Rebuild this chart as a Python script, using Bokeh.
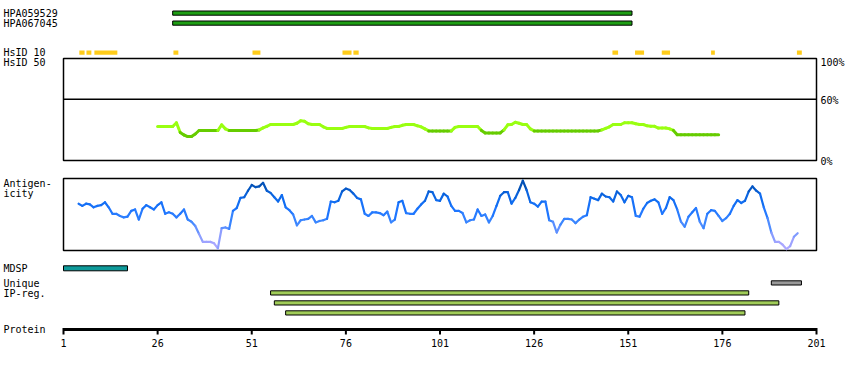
import numpy as np
from bokeh.plotting import figure
from bokeh.models import Range1d
from bokeh.core.properties import value
from bokeh.embed import file_html
from bokeh.resources import INLINE

# ---------------- data ----------------
hpa_names = ["HPA059529", "HPA067045"]
hpa_start = [30, 30]
hpa_end = [152, 152]

hsid10_start = [5.2, 7.1, 9.2, 30.2, 51.2, 75.1, 78.0, 146.8, 152.8, 159.9, 173.0, 195.8]
hsid10_end = [6.6, 8.4, 15.3, 31.5, 53.3, 77.5, 79.4, 148.3, 155.2, 162.1, 174.0, 197.1]

hsid50_first_res = 26
hsid50_pct = [
    33.3, 33.3, 33.3, 33.3, 33.3, 37, 27.5, 25, 23.5, 23.5, 26,
    29.4, 29.4, 29.4, 29.4, 29.4, 29.4, 35, 31,
    29.4, 29.4, 29.4, 29.4, 29.4, 29.4, 29.4, 29.4,
    30, 32, 33.5,
    35.3, 35.3, 35.3, 35.3, 35.3, 35.3, 35.3,
    36.5, 39, 38.5, 36,
    35.3, 35.3, 35.3, 33,
    31.4, 31.4, 31.4, 31.4, 31.4, 32.5,
    33.3, 33.3, 33.3, 33.3, 33.3, 32,
    31.4, 31.4, 31.4, 31.4, 31.4, 32.5,
    33.3, 33.3, 34.5, 35.3, 35.3, 35.3, 34, 33, 31,
    29, 29, 29, 29, 29, 29, 29, 32.5,
    33.3, 33.3, 33.3, 33.3, 33.3, 33.3, 29.5,
    27, 27, 27, 27, 27, 30, 35, 35.3, 37.5, 36.5, 35.3, 35.3, 31,
    29, 29, 29, 29, 29, 29, 29, 29, 29, 29, 29, 29, 29, 29, 29, 29, 29, 29,
    30, 31.5, 33, 35.3, 35.3, 35.3, 37, 37, 37, 36, 35.3, 35.3, 34,
    33.5, 33.5, 31.8, 31.8, 31.8, 31, 29.5,
    25.3, 25.3, 25.3, 25.3, 25.3, 25.3, 25.3, 25.3, 25.3, 25.3, 25.3, 25.3,
]

antig_first_res = 5
antig_val = [
    65, 62, 65, 64, 60, 62, 63, 67, 60, 51,
    51, 48, 46, 47, 55, 57, 43, 58, 63, 60,
    57, 63, 67, 51, 53, 51, 46, 51, 57, 43,
    40, 34, 23, 12, 12, 12, 10, 3, 31, 32,
    30, 55, 59, 73, 74, 83, 91, 88, 89, 94,
    83, 80, 74, 68, 77, 60, 56, 50, 35, 42,
    43, 44, 48, 39, 41, 42, 44, 68, 67, 69,
    82, 86, 84, 79, 73, 71, 51, 48, 53, 53,
    52, 49, 54, 39, 43, 67, 69, 52, 51, 51,
    58, 64, 69, 82, 81, 70, 69, 79, 75, 62,
    55, 55, 52, 39, 42, 43, 57, 48, 50, 39,
    48, 62, 76, 81, 81, 65, 73, 84, 97, 84,
    67, 65, 61, 68, 68, 42, 40, 25, 36, 44,
    44, 43, 38, 43, 47, 49, 74, 72, 70, 79,
    75, 74, 68, 82, 77, 67, 76, 74, 48, 47,
    58, 66, 69, 71, 67, 51, 59, 74, 70, 57,
    40, 33, 47, 53, 59, 40, 31, 51, 56, 55,
    48, 41, 45, 51, 62, 70, 66, 69, 82, 89,
    83, 79, 60, 45, 25, 12, 12, 8, 2, 6,
    19, 24,
]

mdsp_start = [1]
mdsp_end = [18]
unique_start = [189]
unique_end = [197]
ipreg_start = [56, 57, 60]
ipreg_end = [183, 191, 182]

protein_first = 1
protein_last = 201
protein_ticks = [1, 26, 51, 76, 101, 126, 151, 176, 201]

hsid_scale_labels = ["100%", "60%", "0%"]
hsid_threshold_pct = 60

left_labels = ["HPA059529", "HPA067045", "HsID 10", "HsID 50", "Antigen-", "icity",
               "MDSP", "Unique", "IP-reg.", "Protein"]

# ---------------- layout (page pixels) ----------------
W, H = 850, 370
K = 753 / 200.0          # pixels per residue
def rx(px):
    return 1 + (px - 63) / K

FONT = value("DejaVu Sans Mono")

p = figure(width=W, height=H, x_range=Range1d(rx(0), rx(W)), y_range=Range1d(H, 0),
           output_backend="svg", toolbar_location=None, min_border=0,
           x_axis_location=None, y_axis_location=None, outline_line_color=None,
           background_fill_color="white", border_fill_color="white")
p.grid.visible = False

hs_k = 1.02
p.extra_y_ranges = {
    "hsid": Range1d((160 - H) / hs_k, (160 - 0) / hs_k),
    "antig": Range1d((250 - H) / 0.72, (250 - 0) / 0.72),
}

# left labels
left_y = [12.7, 22.7, 52, 62.3, 183.3, 193.3, 267.7, 282.7, 292.7, 329.3]
p.text(x=[rx(3)] * len(left_labels), y=left_y, text=left_labels, text_font=FONT,
       text_font_size="10px", text_baseline="middle", text_align="left", text_color="black")

# HPA bars
hpa_rows = [(10.5, 14.7), (20.5, 24.7)]
p.quad(left=hpa_start, right=hpa_end, top=[r[0] for r in hpa_rows], bottom=[r[1] for r in hpa_rows],
       fill_color="#1E9E14", line_color="black", line_width=1)

# HsID 10 segments
p.quad(left=hsid10_start, right=hsid10_end, top=[50] * len(hsid10_start), bottom=[54.3] * len(hsid10_start),
       fill_color="#FFCC1A", line_color=None)

# HsID 50 box
p.quad(left=[protein_first], right=[protein_last], bottom=[0], top=[100], y_range_name="hsid",
       fill_color=None, line_color="black", line_width=1.5)
p.segment(x0=[protein_first], x1=[protein_last], y0=[hsid_threshold_pct], y1=[hsid_threshold_pct],
          y_range_name="hsid", line_color="black", line_width=1.5)
p.text(x=[rx(820)] * 3, y=[62, 100, 160.5], text=hsid_scale_labels, text_font=FONT,
       text_font_size="10px", text_baseline="middle", text_align="left", text_color="black")

hs_x = np.arange(hsid50_first_res, hsid50_first_res + len(hsid50_pct))
hs_y = np.array(hsid50_pct, dtype=float)
hs_mid = (hs_y[:-1] + hs_y[1:]) / 2
hs_cols = ["#66CC00" if m < 30 else "#99FF11" for m in hs_mid]
p.segment(x0=hs_x[:-1], x1=hs_x[1:], y0=hs_y[:-1], y1=hs_y[1:], y_range_name="hsid",
          line_color=hs_cols, line_width=3, line_cap="round")

# Antigenicity box & line
p.quad(left=[protein_first], right=[protein_last], bottom=[0], top=[100], y_range_name="antig",
       fill_color=None, line_color="black", line_width=1.5)
stops_v = [0, 10, 25, 40, 55, 70, 85, 100]
stops_c = np.array([[178, 172, 255], [165, 165, 255], [115, 150, 255], [60, 135, 255],
                    [30, 118, 255], [15, 108, 240], [5, 88, 200], [0, 70, 150]], dtype=float)
def vcol(v):
    rgb = [np.interp(v, stops_v, stops_c[:, i]) for i in range(3)]
    return "#%02x%02x%02x" % tuple(int(round(c)) for c in rgb)
ag_x = np.arange(antig_first_res, antig_first_res + len(antig_val))
ag_y = np.array(antig_val, dtype=float)
ag_cols = [vcol((a + b) / 2) for a, b in zip(ag_y[:-1], ag_y[1:])]
p.segment(x0=ag_x[:-1], x1=ag_x[1:], y0=ag_y[:-1], y1=ag_y[1:], y_range_name="antig",
          line_color=ag_cols, line_width=2.2, line_cap="round")

# MDSP, Unique, IP-reg
p.quad(left=mdsp_start, right=mdsp_end, top=[265.3], bottom=[270.3],
       fill_color="#0E9A9A", line_color="black", line_width=1)
p.quad(left=unique_start, right=unique_end, top=[280.3], bottom=[284.5],
       fill_color="#999999", line_color="black", line_width=1)
ip_rows = [(290.3, 294.5), (300.3, 304.5), (310.3, 314.5)]
p.quad(left=ipreg_start, right=ipreg_end, top=[r[0] for r in ip_rows], bottom=[r[1] for r in ip_rows],
       fill_color="#A0CC58", line_color="black", line_width=1)

# Protein axis
p.segment(x0=[protein_first], x1=[protein_last], y0=[329], y1=[329], line_color="black", line_width=3)
p.segment(x0=protein_ticks, x1=protein_ticks, y0=[327.5] * len(protein_ticks), y1=[334] * len(protein_ticks),
          line_color="black", line_width=2)
p.text(x=protein_ticks, y=[342] * len(protein_ticks), text=[str(t) for t in protein_ticks], text_font=FONT,
       text_font_size="10px", text_baseline="middle", text_align="center", text_color="black")

open("out.html", "w").write(file_html(p, INLINE))
